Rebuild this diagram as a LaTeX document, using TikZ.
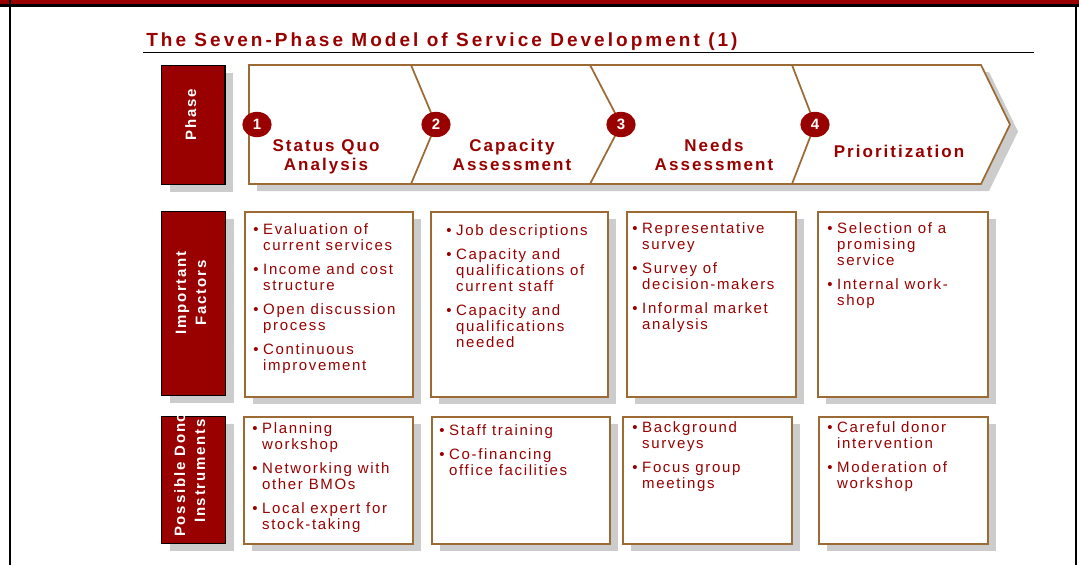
\documentclass[tikz,border=0pt]{standalone}
\usepackage{fontspec}
\setmainfont{Liberation Sans}
\newfontfamily\titlefam[LetterSpace=16,Ligatures=NoCommon]{Liberation Sans}
\newfontfamily\phasefam[LetterSpace=12,Ligatures=NoCommon]{Liberation Sans}
\newfontfamily\labelfam[LetterSpace=12,Ligatures=NoCommon]{Liberation Sans}
\newfontfamily\itemfam[LetterSpace=11,Ligatures=NoCommon]{Liberation Sans}
\usetikzlibrary{positioning,shapes.geometric,shadows}
\definecolor{darkred}{HTML}{990000}
\definecolor{boxtan}{HTML}{9C6A35}
\definecolor{shadowgrey}{HTML}{CCCCCC}
\newcommand\stack[1]{\begin{tabular}{@{}c@{}}#1\end{tabular}}
\newcommand\bullets[1]{\begin{tabular}{@{}l@{\hskip3.5pt}l@{}}#1\end{tabular}}
\tikzset{
  shadowed/.style={drop shadow={shadow xshift=6pt,shadow yshift=-5.25pt,fill=shadowgrey,opacity=1}},
  labelbox/.style={shadowed,draw=black,fill=darkred,line width=0.9pt,anchor=north west,inner sep=0pt},
  labeltext/.style={rotate=90,text=white,inner sep=0pt,font=\labelfam\bfseries\fontsize{11.25pt}{15pt}\selectfont},
  itembox/.style={shadowed,draw=boxtan,fill=white,line width=1.4pt,anchor=north west,inner sep=0pt},
  itemtext/.style={anchor=north west,inner sep=0pt,text=darkred,font=\itemfam\fontsize{11.25pt}{12pt}\selectfont},
  num/.style={ellipse,fill=darkred,text=white,inner sep=0pt,minimum width=22pt,minimum height=19pt,font=\bfseries\fontsize{11.25pt}{12pt}\selectfont},
  phasetext/.style={anchor=north,inner sep=0pt,text=darkred,font=\phasefam\bfseries\fontsize{12.75pt}{13.9pt}\selectfont},
  chevline/.style={draw=boxtan,line width=1.3pt}
}
\begin{document}
\begin{tikzpicture}[x=0.75pt,y=-0.75pt]
\useasboundingbox (0,0) rectangle (1079,565);
\fill[white] (0,0) rectangle (1079,565);
% frame
\fill[darkred] (0,0) rectangle (1079,3.5);
\fill[black] (0,3.5) rectangle (1079,7);
\fill[black] (8.5,0) rectangle (10.5,565);
\fill[black] (1075,7) rectangle (1077,565);
% title
\node[anchor=base west,inner sep=0pt,text=darkred,font=\titlefam\bfseries\fontsize{14.25pt}{17pt}\selectfont] (title) at (146,46) {The Seven-Phase Model of Service Development (1)};
\draw[line width=0.8pt] (143,52.5) -- (1034,52.5);

% row labels
\node[labelbox,minimum width=47.5pt,minimum height=89.25pt] (phase) at (161,65) {};
\node[labelbox,minimum width=48pt,minimum height=138pt] (factors) at (161,211) {};
\node[labelbox,minimum width=48pt,minimum height=95.25pt] (donor) at (161,416) {};
\node[labeltext] (phaselbl) at (192,115) {\stack{Phase}};
\node[labeltext] (factorslbl) at (192,293) {\stack{Important\\Factors}};
\node[labeltext] (donorlbl) at (191,471) {\stack{Possible Donor\\Instruments}};

% phase arrow
\filldraw[shadowed,fill=white,chevline] (249,65) -- (981,65) -- (1010,124.5) -- (981,184) -- (249,184) -- cycle;
\foreach \i/\xa/\xb in {2/411/436,3/590/621,4/792/815}{
  \draw[chevline] (\xa,65) -- (\xb,124.5) -- (\xa,184);
  \node[num] (n\i) at (\xb,124.5) {\i};
}
\node[num] (n1) at (257,124.5) {1};
\node[phasetext] (p1) at (326,138.5) {\stack{Status Quo\\Analysis}};
\node[phasetext] (p2) at (512,138.5) {\stack{Capacity\\Assessment}};
\node[phasetext] (p3) at (714,138.5) {\stack{Needs\\Assessment}};
\node[phasetext] (p4) at (899,144) {\stack{Prioritization}};

% boxes
\foreach \n/\x/\y/\w/\h in {f1/244/211/168/185,f2/430/211/177/185,f3/626/211/169/185,f4/817/211/170/185,
                            d1/243/416/169/127,d2/431/416/178/127,d3/622/416/169/127,d4/818/416/169/127}
  \node[itembox,minimum width=\w*0.75pt,minimum height=\h*0.75pt] (\n) at (\x,\y) {};

% important factors
\node[itemtext] (tf1) at (253,223) {\bullets{%
\textbullet & Evaluation of\\ & current services\\[6pt]
\textbullet & Income and cost\\ & structure\\[6pt]
\textbullet & Open discussion\\ & process\\[6pt]
\textbullet & Continuous\\ & improvement}};
\node[itemtext] (tf2) at (446,224) {\bullets{%
\textbullet & Job descriptions\\[6pt]
\textbullet & Capacity and\\ & qualifications of\\ & current staff\\[6pt]
\textbullet & Capacity and\\ & qualifications\\ & needed}};
\node[itemtext] (tf3) at (632,222) {\bullets{%
\textbullet & Representative\\ & survey\\[6pt]
\textbullet & Survey of\\ & decision-makers\\[6pt]
\textbullet & Informal market\\ & analysis}};
\node[itemtext] (tf4) at (827,222) {\bullets{%
\textbullet & Selection of a\\ & promising\\ & service\\[6pt]
\textbullet & Internal work-\\ & shop}};

% donor instruments
\node[itemtext] (td1) at (252,422) {\bullets{%
\textbullet & Planning\\ & workshop\\[6pt]
\textbullet & Networking with\\ & other BMOs\\[6pt]
\textbullet & Local expert for\\ & stock-taking}};
\node[itemtext] (td2) at (439,424) {\bullets{%
\textbullet & Staff training\\[6pt]
\textbullet & Co-financing\\ & office facilities}};
\node[itemtext] (td3) at (632,421.5) {\bullets{%
\textbullet & Background\\ & surveys\\[6pt]
\textbullet & Focus group\\ & meetings}};
\node[itemtext] (td4) at (827,421.5) {\bullets{%
\textbullet & Careful donor\\ & intervention\\[6pt]
\textbullet & Moderation of\\ & workshop}};
\end{tikzpicture}
\end{document}
